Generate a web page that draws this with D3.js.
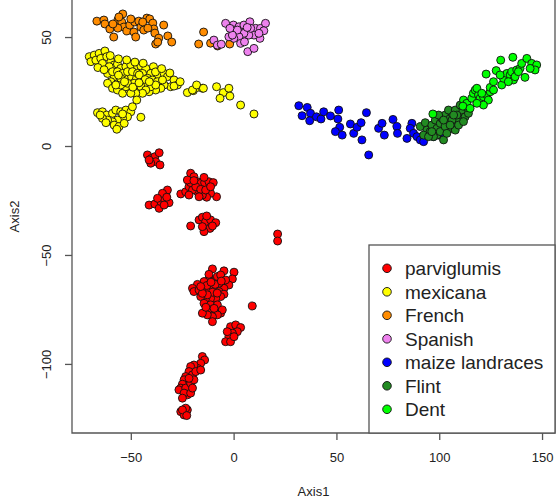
<!DOCTYPE html>
<html>
<head>
<meta charset="utf-8">
<script src="https://cdn.jsdelivr.net/npm/d3@7"></script>
<style>
  body { margin: 0; background: #fff; }
  svg { display: block; font-family: "Liberation Sans", Arial, sans-serif; }
</style>
</head>
<body>
<div id="chart"></div>
<script>
// Grupos y colores (orden de la leyenda)
const groupNames = ["parviglumis", "mexicana", "French", "Spanish", "maize landraces", "Flint", "Dent"];
const groupColors = ["#FF0000", "#FFFF00", "#FF8C00", "#EE82EE", "#0000FF", "#228B22", "#00FF00"];

const xTicks = [-50, 0, 50, 100, 150];
const yTicks = [-100, -50, 0, 50];

// Puntos [Axis1, Axis2]
const parviglumis = [
  [-41.9,-4.1],[-40.0,-5.7],[-38.3,-4.9],[-36.2,-3.1],[-37.9,-7.2],[-40.3,-7.9],[-35.8,-8.7],[-41.1,-6.4],
  [-41.1,-27.1],[-38.3,-26.6],[-36.2,-28.6],[-35.4,-25.5],[-33.8,-24.0],[-33.0,-21.7],[-32.2,-20.2],[-31.4,-26.0],
  [-34.6,-21.7],[-33.8,-27.1],[-37.0,-24.0],[-32.5,-23.5],
  [-25.7,-22.0],[-23.3,-21.0],[-21.7,-18.7],[-20.9,-12.5],[-19.3,-14.1],[-17.6,-16.4],[-16.0,-17.1],[-14.1,-16.8],
  [-12.0,-16.4],[-9.9,-16.8],[-8.3,-23.3],[-11.2,-21.7],[-13.1,-23.5],[-15.2,-22.5],[-17.6,-21.0],[-20.0,-20.2],
  [-20.9,-16.8],[-18.4,-18.7],[-16.0,-19.9],[-13.6,-20.2],[-11.2,-18.7],[-21.7,-22.5],[-16.8,-23.3],[-22.5,-15.6],
  [-19.3,-15.9],[-14.4,-14.4],
  [-20.9,-36.7],[-16.8,-33.9],[-15.2,-32.7],[-13.6,-34.7],[-11.2,-33.9],[-8.7,-35.2],[-11.5,-37.8],[-14.4,-39.3],
  [-15.2,-37.0],[-13.1,-32.1],[-10.3,-36.7],
  [21.4,-40.4],[21.4,-43.6],
  [-10.3,-56.4],[-4.7,-57.3],[0.2,-57.9],[-0.6,-61.0],[-2.3,-63.8],[-4.7,-65.3],[-7.1,-63.0],[-9.6,-61.5],
  [-12.0,-60.7],[-14.4,-62.2],[-17.6,-63.5],[-20.0,-65.3],[-19.3,-66.8],[-16.8,-66.1],[-14.4,-66.8],[-12.0,-65.3],
  [-9.6,-65.3],[-7.1,-66.8],[-4.7,-68.0],[-6.3,-69.1],[-8.7,-69.9],[-11.2,-69.9],[-13.6,-69.9],[-16.0,-69.1],
  [-14.4,-72.2],[-11.2,-72.9],[-7.9,-72.9],[-10.3,-67.1],[-12.8,-68.3],[-15.2,-67.6],[-7.9,-59.9],[-6.3,-59.2],
  [-12.0,-58.9],[-3.9,-61.5],[-13.6,-76.0],[-11.2,-75.2],[-8.7,-76.0],[-6.3,-76.7],[-5.5,-75.2],[-7.9,-77.5],
  [-10.3,-78.3],[-12.8,-77.5],[-10.3,-80.6],[-15.2,-76.7],[9.1,-73.4],
  [-9.0,-63.5],[-13.0,-64.0],[-16.0,-64.5],[-11.0,-62.5],[-6.0,-62.0],[-8.0,-67.5],[-13.5,-74.0],[-9.5,-74.5],
  [-1.5,-82.9],[1.0,-82.1],[3.4,-83.3],[1.8,-85.2],[-0.6,-85.9],[-2.3,-87.5],[-3.9,-89.8],[-1.5,-89.8],
  [0.2,-87.5],[-3.1,-85.2],
  [-15.2,-96.6],[-14.1,-98.2],[-16.0,-99.7],[-17.6,-102.0],[-19.3,-100.5],[-20.9,-101.2],[-21.7,-103.5],[-20.0,-105.0],
  [-18.4,-103.5],[-16.0,-102.8],[-23.3,-105.8],[-24.1,-107.3],[-24.9,-109.3],[-25.7,-111.1],[-26.6,-111.9],[-23.3,-111.1],
  [-20.9,-108.9],[-19.3,-107.3],[-22.5,-114.2],[-24.1,-113.4],[-24.9,-115.7],[-20.9,-113.4],[-20.0,-111.1],[-21.7,-106.6],
  [-25.7,-121.9],[-24.1,-123.4],[-22.5,-121.1],[-23.3,-120.3],[-24.9,-121.1],[-22.8,-123.7]
];

const mexicana = [
  [-70.2,41.0],[-67.8,41.7],[-65.4,42.5],[-62.6,43.6],[-69.4,38.7],[-67.0,39.4],[-64.6,40.2],[-61.7,41.0],
  [-63.8,37.9],[-59.7,38.7],[-58.1,37.2],[-60.5,36.4],[-56.5,37.6],[-54.9,35.6],[-52.4,36.4],[-50.0,37.2],
  [-46.7,36.4],[-45.1,36.7],[-42.7,35.6],[-39.0,36.4],[-40.3,33.3],[-37.1,32.6],[-33.8,33.3],[-32.2,31.8],
  [-29.0,30.3],[-27.3,28.0],[-30.6,27.2],[-33.8,28.0],[-35.4,26.5],[-37.9,25.7],[-41.1,24.9],[-40.3,27.2],
  [-43.5,28.8],[-45.9,30.3],[-48.4,31.1],[-50.8,31.8],[-53.2,31.1],[-55.7,30.3],[-58.1,31.8],[-59.7,29.5],
  [-61.3,28.8],[-58.9,26.5],[-56.5,25.7],[-54.0,24.2],[-50.8,25.7],[-47.6,26.5],[-45.1,27.2],[-42.7,25.7],
  [-44.3,24.2],[-47.6,24.2],[-50.0,24.2],[-52.4,27.2],[-54.9,28.0],[-57.3,28.0],[-61.3,33.3],[-58.9,34.1],
  [-56.5,34.1],[-54.0,33.3],[-51.6,34.1],[-49.2,34.1],[-46.7,33.3],[-44.3,33.3],[-41.9,31.1],[-39.5,30.3],
  [-37.1,29.5],[-34.6,30.3],[-37.9,28.0],[-48.4,28.8],[-45.9,32.6],[-51.6,28.8],[-54.9,31.1],
  [-66.0,36.0],[-63.0,35.0],[-56.0,40.0],[-52.0,39.5],[-48.0,38.5],[-44.0,38.0],[-43.0,30.5],[-38.0,34.0],
  [-35.0,35.5],[-31.0,33.5],[-29.0,27.5],[-26.0,29.5],[-60.0,41.5],[-53.0,29.5],[-49.0,27.0],[-46.0,29.0],
  [-41.0,29.5],[-56.0,32.5],
  [-66.2,15.3],[-63.8,15.7],[-61.7,14.2],[-58.9,15.0],[-57.3,16.5],[-54.9,15.7],[-52.4,16.5],[-50.0,15.7],
  [-49.2,18.0],[-47.1,21.1],[-51.6,13.4],[-54.0,12.7],[-56.5,11.9],[-58.9,11.1],[-61.3,11.9],[-63.8,12.7],
  [-58.1,9.6],[-55.7,8.9],[-53.2,10.4],[-56.8,7.7],[-64.9,14.2],[-62.1,10.7],[-54.0,14.7],[-45.1,13.2],
  [-22.5,24.5],[-19.6,25.4],[-17.6,26.9],[-15.2,26.5],[-20.0,25.7],[-18.0,28.0],[-14.7,26.5],
  [-8.3,27.2],[-5.0,24.5],[-2.3,26.5],[-6.6,21.9],[-1.8,22.9],[3.4,18.8],[9.9,14.7]
];

const french = [
  [-66.5,57.3],[-63.1,57.8],[-62.6,56.0],[-60.2,53.7],[-58.3,50.0],[-56.3,57.8],[-53.9,60.6],[-54.4,56.9],
  [-53.4,54.6],[-51.9,52.8],[-50.5,55.5],[-48.5,52.3],[-47.6,50.0],[-48.1,56.9],[-46.1,57.3],[-45.1,54.6],
  [-43.7,53.2],[-42.2,58.7],[-40.8,58.3],[-39.3,56.4],[-38.8,53.7],[-38.3,51.8],[-36.4,49.5],[-37.9,46.8],
  [-36.9,47.7],[-34.0,55.5],[-32.0,50.5],[-30.1,47.7],[-56.3,54.1],[-50.0,58.3],[-44.2,56.9],[-41.7,54.1],
  [-55.8,59.2],[-58.7,56.0],
  [-14.6,52.3],[-17.0,46.8],[-11.2,47.2],[-7.8,45.9],[-1.9,46.8]
];

const spanish = [
  [-3.9,56.3],[-0.1,55.5],[2.6,54.7],[5.0,55.5],[7.9,57.0],[10.7,54.0],[13.1,54.0],[15.5,56.3],
  [14.7,52.9],[12.8,49.4],[9.9,50.9],[7.4,50.9],[5.0,51.7],[2.6,50.1],[0.1,49.4],[3.4,47.1],
  [5.3,47.8],[6.9,43.3],[9.9,44.8],[0.1,53.2],[-2.3,50.1],[-9.6,48.6],[-7.9,46.3],[-6.0,46.7],
  [1.8,53.2],[8.3,54.0],[12.3,51.7],[-0.6,50.9],[-1.8,54.0],[6.6,54.4]
];

const maize = [
  [31.7,18.5],[35.8,17.7],[33.3,13.9],[37.4,15.0],[37.0,11.6],[40.3,13.4],[42.5,12.4],[43.8,15.7],
  [47.1,13.8],[51.1,16.5],[50.7,12.4],[51.6,8.6],[49.5,6.6],[52.8,5.0],[56.8,10.1],[58.4,5.8],
  [60.0,8.6],[62.0,10.7],[64.6,15.3],[62.4,2.8],[65.7,-4.1],[70.5,8.1],[72.2,10.4],[73.3,5.0],
  [77.5,12.2],[79.4,8.9],[79.7,5.8],[84.3,3.5],[86.7,10.4],[85.9,8.1],[87.5,5.8],[89.2,4.3],
  [90.8,2.8],[92.4,2.0],[94.8,5.0],[97.2,4.3],[99.7,5.0],[101.3,5.8],[98.9,6.6]
];

const flint = [
  [90.8,8.9],[93.2,10.7],[94.0,7.3],[92.4,5.0],[95.6,6.6],[96.4,9.6],[98.1,11.9],[98.9,8.1],
  [100.5,10.4],[101.3,12.7],[102.9,14.2],[103.7,10.7],[105.3,12.7],[106.2,15.0],[107.0,9.6],[108.6,11.9],
  [110.2,14.2],[111.0,16.5],[112.6,13.4],[114.2,15.0],[98.9,5.0],[102.1,2.8],[104.5,7.6],[107.8,7.3],
  [100.5,6.6],[102.9,8.9],[106.2,11.9],[109.4,9.6],[111.8,11.2],[97.2,4.3],[94.8,4.3],[99.7,14.2],
  [104.5,16.5],[107.8,16.5],[110.2,18.8],[113.4,17.7],[108.6,14.2],[102.1,11.9],[105.3,9.6],[96.4,6.6],
  [103.7,5.8],[107.0,14.2]
];

const dent = [
  [96.9,14.7],[111.8,21.1],[113.4,19.6],[115.8,21.9],[116.6,24.2],[117.5,25.7],[119.1,23.4],[119.9,21.9],
  [121.5,22.6],[123.2,23.4],[124.8,24.9],[123.9,21.1],[121.5,18.8],[124.8,26.9],[126.4,29.5],[130.4,28.0],
  [131.2,31.1],[132.9,33.3],[134.5,32.6],[136.1,30.3],[135.3,34.1],[137.7,34.9],[139.3,35.6],[140.1,37.9],
  [141.7,31.5],[142.6,40.2],[145.0,37.9],[145.8,35.6],[147.4,37.2],[146.6,34.9],[135.8,40.7],[129.9,39.4],
  [127.7,34.6],[122.8,33.0],[118.3,26.5],[111.5,18.3],[115.0,17.3],[120.7,24.2],[133.6,29.5],[136.9,31.8],
  [138.5,34.1],[144.2,35.6],[129.6,32.6],[126.4,25.7],[118.3,19.6]
];

const series = [parviglumis, mexicana, french, spanish, maize, flint, dent];

// Dimensiones
const width = 557, height = 499;
const plot = { left: 72, right: 555, top: 0, bottom: 433 };

const svg = d3.select("#chart").append("svg")
  .attr("width", width)
  .attr("height", height);

const x = d3.scaleLinear().domain([-78.6, 156.3]).range([plot.left, plot.right]);
const y = d3.scaleLinear().domain([-131.7, 67]).range([plot.bottom, plot.top]);

const axisColor = "#555";
const textColor = "#222";

// Puntos, en el orden de la leyenda
series.forEach((pts, i) => {
  svg.append("g")
    .selectAll("circle")
    .data(pts)
    .join("circle")
    .attr("cx", d => x(d[0]))
    .attr("cy", d => y(d[1]))
    .attr("r", 4)
    .attr("fill", groupColors[i])
    .attr("stroke", "#111")
    .attr("stroke-width", 0.9);
});

// Marco del area de dibujo (arriba queda fuera)
svg.append("path")
  .attr("d", `M${plot.left},-2V${plot.bottom}H${plot.right}V-2`)
  .attr("fill", "none")
  .attr("stroke", axisColor)
  .attr("stroke-width", 1.3);

// Eje X
const xAxis = svg.append("g")
  .attr("transform", `translate(0,${plot.bottom})`)
  .call(d3.axisBottom(x).tickValues(xTicks).tickSize(7).tickPadding(13).tickFormat(d3.format("d")));
xAxis.select(".domain").remove();
xAxis.selectAll("line").attr("stroke", axisColor).attr("stroke-width", 1.3);
xAxis.selectAll("text").attr("fill", textColor).attr("font-size", 13)
  .attr("font-family", "Liberation Sans, Arial, sans-serif");

// Eje Y (etiquetas giradas, estilo R)
const yAxis = svg.append("g")
  .attr("transform", `translate(${plot.left},0)`)
  .call(d3.axisLeft(y).tickValues(yTicks).tickSize(7).tickFormat(d3.format("d")));
yAxis.select(".domain").remove();
yAxis.selectAll("line").attr("stroke", axisColor).attr("stroke-width", 1.3);
yAxis.selectAll("text")
  .attr("fill", textColor)
  .attr("font-size", 13)
  .attr("font-family", "Liberation Sans, Arial, sans-serif")
  .attr("x", null).attr("dy", null)
  .attr("text-anchor", "middle")
  .attr("transform", `translate(${51 - plot.left},0) rotate(-90)`);

// Titulos de ejes
svg.append("text")
  .attr("x", (plot.left + plot.right) / 2)
  .attr("y", 496)
  .attr("text-anchor", "middle")
  .attr("font-size", 13)
  .attr("fill", textColor)
  .text("Axis1");

svg.append("text")
  .attr("transform", `translate(19,${(plot.top + plot.bottom) / 2}) rotate(-90)`)
  .attr("text-anchor", "middle")
  .attr("font-size", 13)
  .attr("fill", textColor)
  .text("Axis2");

// Leyenda
const legend = svg.append("g");
legend.append("rect")
  .attr("x", 369).attr("y", 245)
  .attr("width", plot.right - 369).attr("height", plot.bottom - 245)
  .attr("fill", "#fff")
  .attr("stroke", axisColor)
  .attr("stroke-width", 1.3);

const rows = legend.selectAll("g.row")
  .data(groupNames)
  .join("g")
  .attr("class", "row")
  .attr("transform", (d, i) => `translate(0,${268.3 + i * 23.5})`);

rows.append("circle")
  .attr("cx", 387)
  .attr("r", 4.3)
  .attr("fill", (d, i) => groupColors[i])
  .attr("stroke", "#111")
  .attr("stroke-width", 0.9);

rows.append("text")
  .attr("x", 405)
  .attr("y", 7)
  .attr("font-size", 19)
  .attr("fill", textColor)
  .text(d => d);
</script>
</body>
</html>
